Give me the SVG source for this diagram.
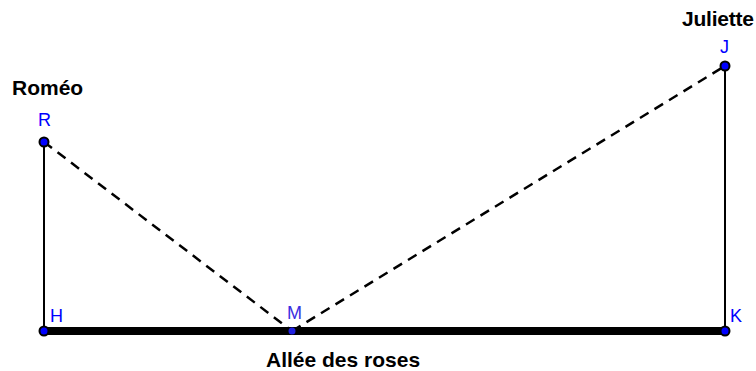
<svg xmlns="http://www.w3.org/2000/svg" width="756" height="371" viewBox="0 0 756 371">
<style>
.seg{stroke:#000;stroke-width:2;fill:none}
.dash{stroke:#000;stroke-width:2.5;stroke-dasharray:10 7;fill:none}
.pt{fill:#0000ff;stroke:#000;stroke-width:2}
.lbl{font-family:"Liberation Sans",Arial,sans-serif;font-size:18px;fill:#0000ff}
.name{font-family:"Liberation Sans",Arial,sans-serif;font-size:21px;font-weight:bold;fill:#000}
</style>
<rect width="756" height="371" fill="#fff"/>
<g id="connectors">
<line class="seg" x1="44" y1="142" x2="44" y2="331"/>
<line class="seg" x1="725" y1="66" x2="725" y2="331"/>
<line class="dash" x1="44" y1="142" x2="292" y2="331"/>
<line class="dash" x1="292" y1="331" x2="725" y2="66"/>
<line stroke="#000" stroke-width="8" x1="44" y1="331" x2="725" y2="331"/>
</g>
<g id="R"><circle class="pt" cx="44" cy="142" r="4.5"/><text class="lbl" x="38" y="126">R</text></g>
<g id="J"><circle class="pt" cx="725" cy="66" r="4.5"/><text class="lbl" x="720" y="52.5">J</text></g>
<g id="H"><circle class="pt" cx="44" cy="331" r="4.5"/><text class="lbl" x="50" y="322">H</text></g>
<g id="M"><circle fill="#2020e0" cx="292" cy="331" r="3.5"/><text class="lbl" x="287" y="319" style="fill:#3a2ee0">M</text></g>
<g id="K"><circle class="pt" cx="725" cy="331" r="4.5"/><text class="lbl" x="730" y="322">K</text></g>
<text class="name" x="12" y="95">Roméo</text>
<text class="name" x="682" y="26" textLength="72">Juliette</text>
<text class="name" x="266" y="367">Allée des roses</text>
</svg>
